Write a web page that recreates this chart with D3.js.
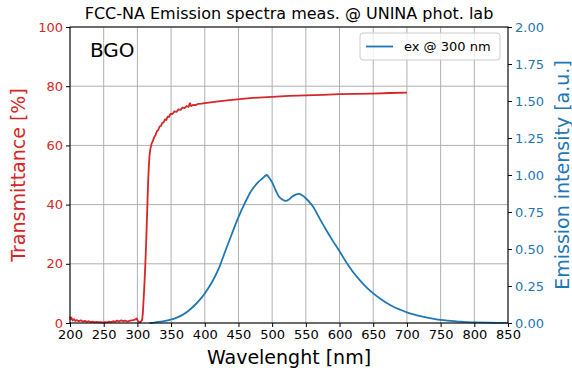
<!DOCTYPE html>
<html><head><meta charset="utf-8">
<script src="https://cdn.jsdelivr.net/npm/d3@7"></script>
<style>body{margin:0;background:#fff}svg{display:block;font-family:"DejaVu Sans",sans-serif}</style>
</head><body>
<svg id="c" width="572" height="372"></svg>
<script>
const title = "FCC-NA Emission spectra meas. @ UNINA phot. lab";
const xTicks = [200,250,300,350,400,450,500,550,600,650,700,750,800,850];
const leftTicks = [0,20,40,60,80,100];
const rightTicks = [0,0.25,0.5,0.75,1.0,1.25,1.5,1.75,2.0];

const transWl = [200,201,202,204,206,208,210,213,216,219,222,225,228,231,234,237,240,243,246,249,252,255,258,261,264,267,270,273,276,279,282,285,288,291,294,297,299,301,303,305,307,308,309,310,311,312,313,314,315,316,317,318,319,321,323,325,327,329,331,333,335,337,339,341,343,345,347,349,352,355,358,361,364,367,370,373,376,378,380,383,386,390,395,403,420,437,467,500,525,550,575,600,625,650,675,700];
const transVal = [2.2,1.2,1.8,0.9,1.3,0.7,1.0,0.6,0.9,0.5,0.7,0.4,0.6,0.3,0.5,0.2,0.4,0.2,0.3,0.1,0.3,0.2,0.5,0.3,0.6,0.4,0.8,0.5,0.9,0.6,0.8,0.5,0.7,0.9,1.0,1.2,1.5,0.6,0.2,0.4,1,3,7,11,16,21,27,34,41,48,53,56.5,58.5,60.5,61.5,62.8,63.5,64.8,65.2,66.4,66.6,67.6,67.8,68.8,68.6,69.7,69.6,70.6,70.6,71.5,71.3,72.2,72.0,72.8,72.6,73.3,73.0,74.3,73.3,73.7,73.6,74.0,74.1,74.4,74.9,75.3,76.0,76.4,76.7,76.9,77.1,77.3,77.4,77.5,77.7,77.8];

const emisWl = [318,325,335,345,355,365,375,385,395,400,410,420,430,440,450,460,470,480,485,490,492,495,500,505,510,515,520,525,530,535,540,545,550,560,570,580,590,600,610,620,630,640,650,660,670,680,690,700,710,720,730,740,750,760,770,780,790,800,820,850];
const emisVal = [0.0,0.003,0.01,0.018,0.03,0.05,0.08,0.12,0.17,0.20,0.27,0.36,0.48,0.60,0.715,0.815,0.90,0.955,0.975,0.995,1.0,0.985,0.95,0.90,0.855,0.835,0.825,0.835,0.855,0.868,0.872,0.862,0.843,0.79,0.71,0.63,0.555,0.485,0.41,0.345,0.29,0.24,0.20,0.165,0.135,0.11,0.09,0.072,0.058,0.046,0.036,0.028,0.021,0.016,0.012,0.009,0.006,0.004,0.002,0.001];

const RED = "#d62728", BLUE = "#1f77b4";
const m = {l:70, r:508, t:27, b:323};
const svg = d3.select("#c");
const x = d3.scaleLinear().domain([200,850]).range([m.l,m.r]);
const yL = d3.scaleLinear().domain([0,100]).range([m.b,m.t]);
const yR = d3.scaleLinear().domain([0,2]).range([m.b,m.t]);

// grid
const g = svg.append("g");
g.selectAll(".vx").data(xTicks).join("line")
  .attr("x1",d=>x(d)).attr("x2",d=>x(d)).attr("y1",m.t).attr("y2",m.b)
  .attr("stroke","#b0b0b0").attr("stroke-width",1);
g.selectAll(".hy").data(leftTicks).join("line")
  .attr("x1",m.l).attr("x2",m.r).attr("y1",d=>yL(d)).attr("y2",d=>yL(d))
  .attr("stroke","#b0b0b0").attr("stroke-width",1);

// lines
svg.append("path").datum(transWl.map((w,i)=>[w,transVal[i]]))
  .attr("fill","none").attr("stroke",RED).attr("stroke-width",1.8).attr("stroke-linejoin","round")
  .attr("d",d3.line().x(d=>x(d[0])).y(d=>yL(d[1])));
svg.append("path").datum(emisWl.map((w,i)=>[w,emisVal[i]]))
  .attr("fill","none").attr("stroke",BLUE).attr("stroke-width",1.8).attr("stroke-linejoin","round")
  .attr("d",d3.line().curve(d3.curveCatmullRom).x(d=>x(d[0])).y(d=>yR(d[1])));

// axes
const fs = 13;
const ax = svg.append("g").attr("transform",`translate(0,${m.b})`)
  .call(d3.axisBottom(x).tickValues(xTicks).tickSize(4).tickPadding(3));
ax.select(".domain").remove();
ax.selectAll("text").attr("fill","#000").style("font-size",fs+"px").style("font-family","DejaVu Sans");
const al = svg.append("g").attr("transform",`translate(${m.l},0)`)
  .call(d3.axisLeft(yL).tickValues(leftTicks).tickSize(4).tickPadding(3));
al.select(".domain").remove();
al.selectAll("text").attr("fill",RED).style("font-size",fs+"px").style("font-family","DejaVu Sans");
const ar = svg.append("g").attr("transform",`translate(${m.r},0)`)
  .call(d3.axisRight(yR).tickValues(rightTicks).tickFormat(d3.format(".2f")).tickSize(4).tickPadding(3));
ar.select(".domain").remove();
ar.selectAll("text").attr("fill",BLUE).style("font-size",fs+"px").style("font-family","DejaVu Sans");

// frame
svg.append("rect").attr("x",m.l).attr("y",m.t).attr("width",m.r-m.l).attr("height",m.b-m.t)
  .attr("fill","none").attr("stroke","#000").attr("stroke-width",1);

// texts
svg.append("text").attr("x",(m.l+m.r)/2).attr("y",19).attr("text-anchor","middle")
  .style("font-size","16px").text(title);
svg.append("text").attr("x",(m.l+m.r)/2).attr("y",364).attr("text-anchor","middle")
  .style("font-size","19px").text("Wavelenght [nm]");
svg.append("text").attr("transform",`translate(25,${(m.t+m.b)/2}) rotate(-90)`).attr("text-anchor","middle")
  .attr("fill",RED).style("font-size","19px").text("Transmittance [%]");
svg.append("text").attr("transform",`translate(569,${(m.t+m.b)/2}) rotate(-90)`).attr("text-anchor","middle")
  .attr("fill",BLUE).style("font-size","19px").text("Emission intensity [a.u.]");
svg.append("text").attr("x",90).attr("y",57).style("font-size","20px").text("BGO");

// legend
const lg = svg.append("g");
lg.append("rect").attr("x",360).attr("y",33).attr("width",140).attr("height",27).attr("rx",3)
  .attr("fill","#fff").attr("fill-opacity",0.8).attr("stroke","#ccc").attr("stroke-width",1);
lg.append("line").attr("x1",366).attr("x2",393).attr("y1",46.5).attr("y2",46.5)
  .attr("stroke",BLUE).attr("stroke-width",1.8);
lg.append("text").attr("x",404).attr("y",51).style("font-size","13px").text("ex @ 300 nm");
</script>
</body></html>
